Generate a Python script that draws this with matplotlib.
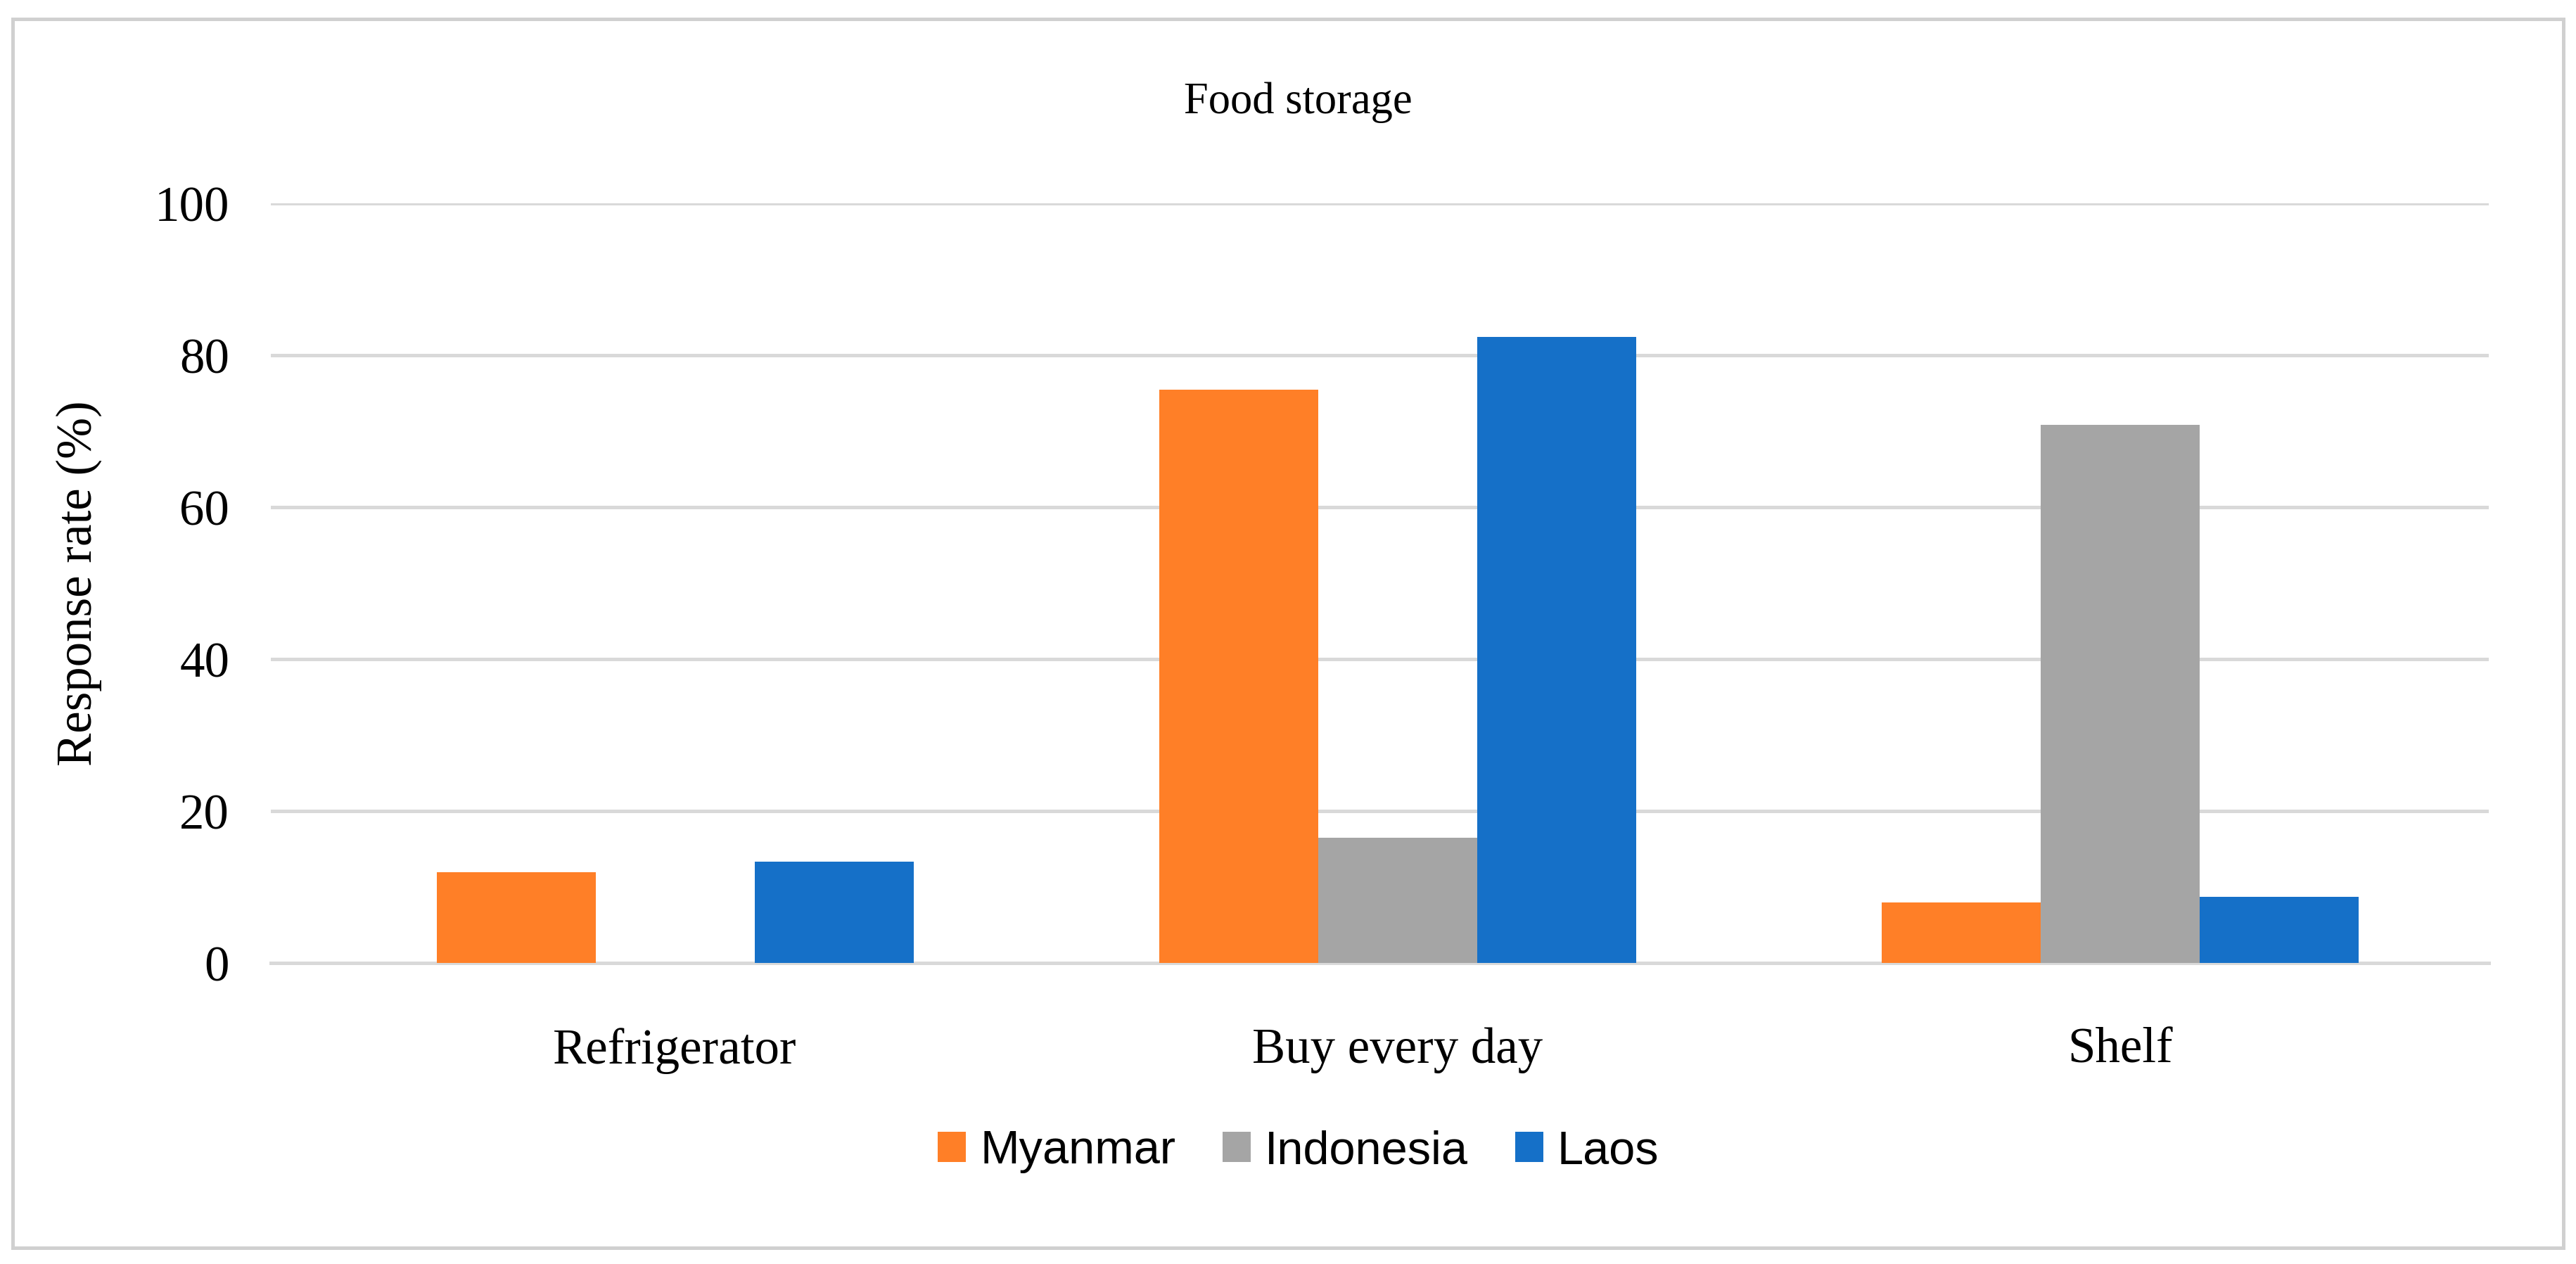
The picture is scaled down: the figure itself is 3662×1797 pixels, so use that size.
import matplotlib
matplotlib.use("Agg")
import matplotlib.pyplot as plt
import numpy as np
from matplotlib.patches import Rectangle

categories = ["Refrigerator", "Buy every day", "Shelf"]
series = ["Myanmar", "Indonesia", "Laos"]
myanmar = [12.0, 75.5, 8.0]
indonesia = [0.0, 16.5, 70.9]
laos = [13.4, 82.4, 8.7]
colors = ["#FF7F27", "#A5A5A5", "#1570C8"]
yticks = [0, 20, 40, 60, 80, 100]

fig = plt.figure(figsize=(12.207, 5.99), dpi=300)
fig.patches.append(Rectangle((0.005, 0.013), 0.99, 0.972, transform=fig.transFigure,
                             fill=False, edgecolor="#D0D0D0", linewidth=1.2))
ax = fig.add_axes([0.105, 0.238, 0.861, 0.601])
x = np.arange(len(categories))
w = 0.22
for i, (vals, c, name) in enumerate(zip([myanmar, indonesia, laos], colors, series)):
    ax.bar(x + (i - 1) * w, vals, w, color=c, label=name, zorder=3)
ax.set_xlim(-0.56, 2.51)
ax.set_ylim(0, 100)
ax.set_yticks(yticks)
ax.set_yticklabels([str(t) for t in yticks], fontsize=17, family="Liberation Serif")
ax.set_xticks(x)
ax.set_xticklabels(categories, fontsize=17, family="Liberation Serif")
ax.tick_params(length=0, pad=14)
ax.tick_params(axis="x", pad=22)
ax.grid(axis="y", color="#D9D9D9", linewidth=1.2, zorder=0)
for s in ["top", "right", "left"]:
    ax.spines[s].set_visible(False)
ax.spines["bottom"].set_color("#D9D9D9")
ax.spines["bottom"].set_linewidth(1.2)
ax.set_ylabel("Response rate (%)", fontsize=17, family="Liberation Serif", labelpad=18)
fig.text(0.504, 0.919, "Food storage", ha="center", va="center", fontsize=15, family="Liberation Serif")
fig.legend(loc="center", bbox_to_anchor=(0.504, 0.089), ncol=3, frameon=False,
           prop={"family": "Liberation Sans", "size": 16}, handlelength=0.6, handleheight=0.6,
           handletextpad=0.3, columnspacing=1.0)
fig.savefig("out.png", dpi=300)
